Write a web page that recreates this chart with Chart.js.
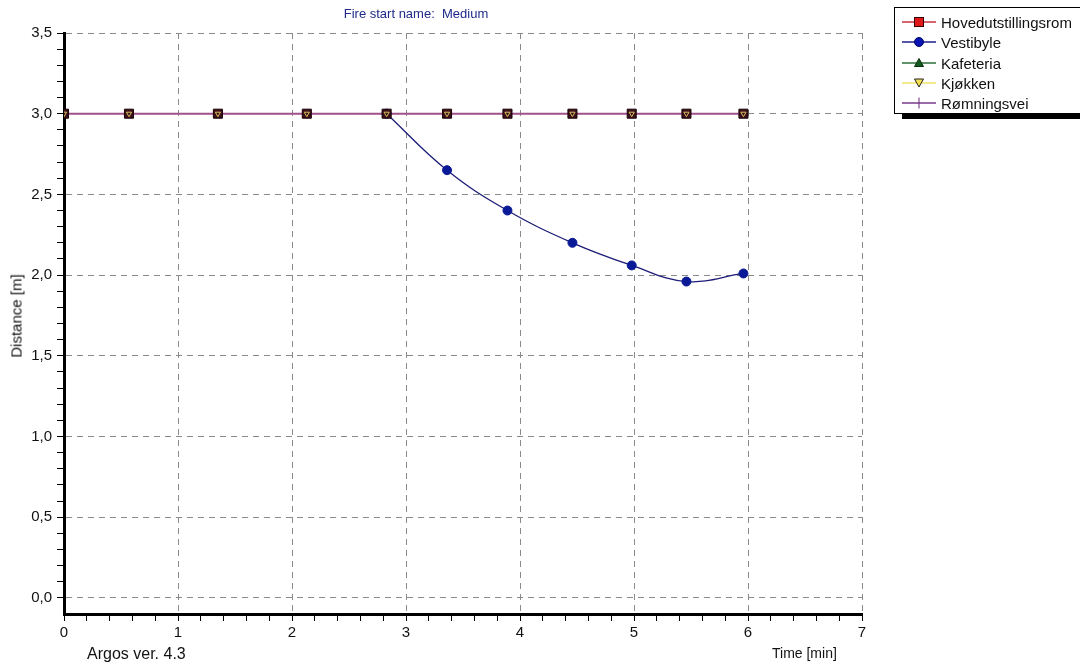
<!DOCTYPE html>
<html>
<head>
<meta charset="utf-8">
<script src="https://cdn.jsdelivr.net/npm/chart.js@4.4.1/dist/chart.umd.min.js"></script>
<style>
html,body{margin:0;padding:0;background:#fff;overflow:hidden;width:1080px;height:667px;font-family:"Liberation Sans",Arial,sans-serif;}
#wrap{position:relative;width:1080px;height:667px;overflow:hidden;}
#chart{position:absolute;left:0;top:0;}
.txt{position:absolute;white-space:nowrap;color:#111;line-height:1;}
#title{left:416px;top:13px;font-size:13px;color:#1f2a8a;transform:translate(-50%,-50%);}
#ytitle{left:16px;top:316px;font-size:15px;transform:translate(-50%,-50%) rotate(-90deg);}
#argos{left:87px;top:646px;font-size:16px;}
#xtitle{left:772px;top:646px;font-size:14px;}
#legend{position:absolute;left:894px;top:7px;width:200px;height:105px;border:1px solid #000;background:#fff;box-shadow:8px 5px 0 #000;}
.item{position:absolute;left:7px;height:20px;display:flex;align-items:center;}
.item svg{display:block;}
.item span{margin-left:5px;font-size:15px;color:#111;line-height:1;}
</style>
</head>
<body>
<div id="wrap">
  <canvas id="chart" width="1080" height="667"></canvas>
  <div id="title" class="txt">Fire start name:&nbsp; Medium</div>
  <div id="ytitle" class="txt">Distance [m]</div>
  <div id="argos" class="txt">Argos ver. 4.3</div>
  <div id="xtitle" class="txt">Time [min]</div>
  <div id="legend"></div>
</div>
<script>
// ---- data ----
const seriesNames = ['Hovedutstillingsrom', 'Vestibyle', 'Kafeteria', 'Kjøkken', 'Rømningsvei'];
const timeMin = [0, 0.57, 1.35, 2.13, 2.83, 3.36, 3.89, 4.46, 4.98, 5.46, 5.96];
const hovedutstillingsrom = [3.0, 3.0, 3.0, 3.0, 3.0, 3.0, 3.0, 3.0, 3.0, 3.0, 3.0];
const vestibyleTime = [2.83, 3.36, 3.89, 4.46, 4.98, 5.46, 5.96];
const vestibyle = [3.0, 2.65, 2.40, 2.20, 2.06, 1.96, 2.01];
const kafeteria = [3.0, 3.0, 3.0, 3.0, 3.0, 3.0, 3.0, 3.0, 3.0, 3.0, 3.0];
const kjokken = [3.0, 3.0, 3.0, 3.0, 3.0, 3.0, 3.0, 3.0, 3.0, 3.0, 3.0];
const romningsvei = [3.0, 3.0, 3.0, 3.0, 3.0, 3.0, 3.0, 3.0, 3.0, 3.0, 3.0];
const xTickLabels = [0, 1, 2, 3, 4, 5, 6, 7];
const yTickLabels = [0, 0.5, 1.0, 1.5, 2.0, 2.5, 3.0, 3.5];

// ---- helpers ----
const FONT = '"Liberation Sans", Arial, sans-serif';
const pts = (xs, ys) => xs.map((x, i) => ({x: x, y: ys[i]}));
const isMajor = (v, list) => list.some(m => Math.abs(m - v) < 1e-6);
const fmtY = v => v.toFixed(1).replace('.', ',');

// ---- legend (HTML) ----
const legendStyles = [
  {line: '#c8323c', marker: 'rect', fill: '#e01818', stroke: '#3a0000'},
  {line: '#1c1c8c', marker: 'circle', fill: '#0a14b4', stroke: '#000a60'},
  {line: '#2e6e3a', marker: 'triangle', fill: '#145a1e', stroke: '#0a300e'},
  {line: '#f2e468', marker: 'down', fill: '#f2e050', stroke: '#222'},
  {line: '#7a3a8c', marker: 'cross', fill: 'none', stroke: '#6a2a7c'}
];
const itemTops = [4, 24, 45, 65, 85];
function markerSvg(s) {
  let m = '';
  if (s.marker === 'rect') m = `<rect x="12.5" y="2.5" width="9" height="9" fill="${s.fill}" stroke="${s.stroke}" stroke-width="1"/>`;
  if (s.marker === 'circle') m = `<circle cx="17" cy="7" r="4.5" fill="${s.fill}" stroke="${s.stroke}" stroke-width="1"/>`;
  if (s.marker === 'triangle') m = `<polygon points="17,2.5 21.5,10.5 12.5,10.5" fill="${s.fill}" stroke="${s.stroke}" stroke-width="1"/>`;
  if (s.marker === 'down') m = `<polygon points="12.5,3 21.5,3 17,11" fill="${s.fill}" stroke="${s.stroke}" stroke-width="1"/>`;
  if (s.marker === 'cross') m = `<line x1="17" y1="1.5" x2="17" y2="12.5" stroke="${s.stroke}" stroke-width="1"/>`;
  return `<svg width="34" height="14"><line x1="0" y1="7" x2="34" y2="7" stroke="${s.line}" stroke-width="1.5"/>${m}</svg>`;
}
const legendEl = document.getElementById('legend');
seriesNames.forEach((name, i) => {
  const d = document.createElement('div');
  d.className = 'item';
  d.style.top = itemTops[i] + 'px';
  d.innerHTML = markerSvg(legendStyles[i]) + `<span>${name}</span>`;
  legendEl.appendChild(d);
});

// ---- chart ----
const gridColorX = c => (c.tick && isMajor(c.tick.value, xTickLabels)) ? '#8a8a8a' : 'rgba(0,0,0,0)';
const gridColorY = c => (c.tick && isMajor(c.tick.value, yTickLabels)) ? '#8a8a8a' : 'rgba(0,0,0,0)';
const tickColY = c => (c.tick && c.tick.value < -0.05) ? 'rgba(0,0,0,0)' : '#000';

new Chart(document.getElementById('chart').getContext('2d'), {
  type: 'line',
  data: {
    datasets: [
      {label: seriesNames[0], data: pts(timeMin, hovedutstillingsrom), showLine: false,
       pointStyle: 'rect', pointRadius: 6.4, pointBackgroundColor: '#3b0e1c', pointBorderColor: '#1a0508', pointBorderWidth: 1, order: 1},
      {label: seriesNames[1], data: pts(vestibyleTime, vestibyle), borderColor: '#1c1c78', borderWidth: 1.3, tension: 0.4,
       pointStyle: 'circle', pointRadius: 4.5, pointBackgroundColor: '#0a1a96', pointBorderColor: '#0a1a96', pointBorderWidth: 1, order: 2},
      {label: seriesNames[2], data: pts(timeMin, kafeteria), showLine: false, pointRadius: 0, order: 5},
      {label: seriesNames[3], data: pts(timeMin, kjokken), showLine: false,
       pointStyle: 'triangle', pointRotation: 180, pointRadius: 3, pointBackgroundColor: 'rgba(0,0,0,0)', pointBorderColor: '#d9c45a', pointBorderWidth: 1, order: 0},
      {label: seriesNames[4], data: pts(timeMin, romningsvei), borderColor: '#a0508a', borderWidth: 2, pointRadius: 0, order: 3}
    ]
  },
  options: {
    responsive: false,
    animation: false,
    devicePixelRatio: 1,
    layout: {padding: {top: 33, right: 218, left: 0, bottom: 0}},
    plugins: {legend: {display: false}, tooltip: {enabled: false}, title: {display: false}},
    scales: {
      x: {
        type: 'linear', min: 0, max: 7,
        afterFit: s => { s.height = 53; },
        ticks: {stepSize: 0.2, autoSkip: false, maxRotation: 0, padding: 3, maxTicksLimit: 200,
                color: '#111', font: {family: FONT, size: 15},
                callback: v => isMajor(v, xTickLabels) ? String(Math.round(v)) : ''},
        grid: {color: gridColorX, lineWidth: 1, tickLength: 7, tickColor: '#000', tickWidth: 1},
        border: {display: true, color: '#000', width: 3, dash: [6, 5]}
      },
      y: {
        type: 'linear', min: -0.1, max: 3.5,
        afterFit: s => { s.width = 64; },
        ticks: {stepSize: 0.1, autoSkip: false, padding: 5, maxTicksLimit: 200, includeBounds: false,
                color: '#111', font: {family: FONT, size: 15},
                callback: v => isMajor(v, yTickLabels) ? fmtY(v) : ''},
        grid: {color: gridColorY, lineWidth: 1, tickLength: 7, tickColor: tickColY, tickWidth: 1},
        border: {display: true, color: '#000', width: 3, dash: [6, 5]}
      }
    }
  }
});
</script>
</body>
</html>
